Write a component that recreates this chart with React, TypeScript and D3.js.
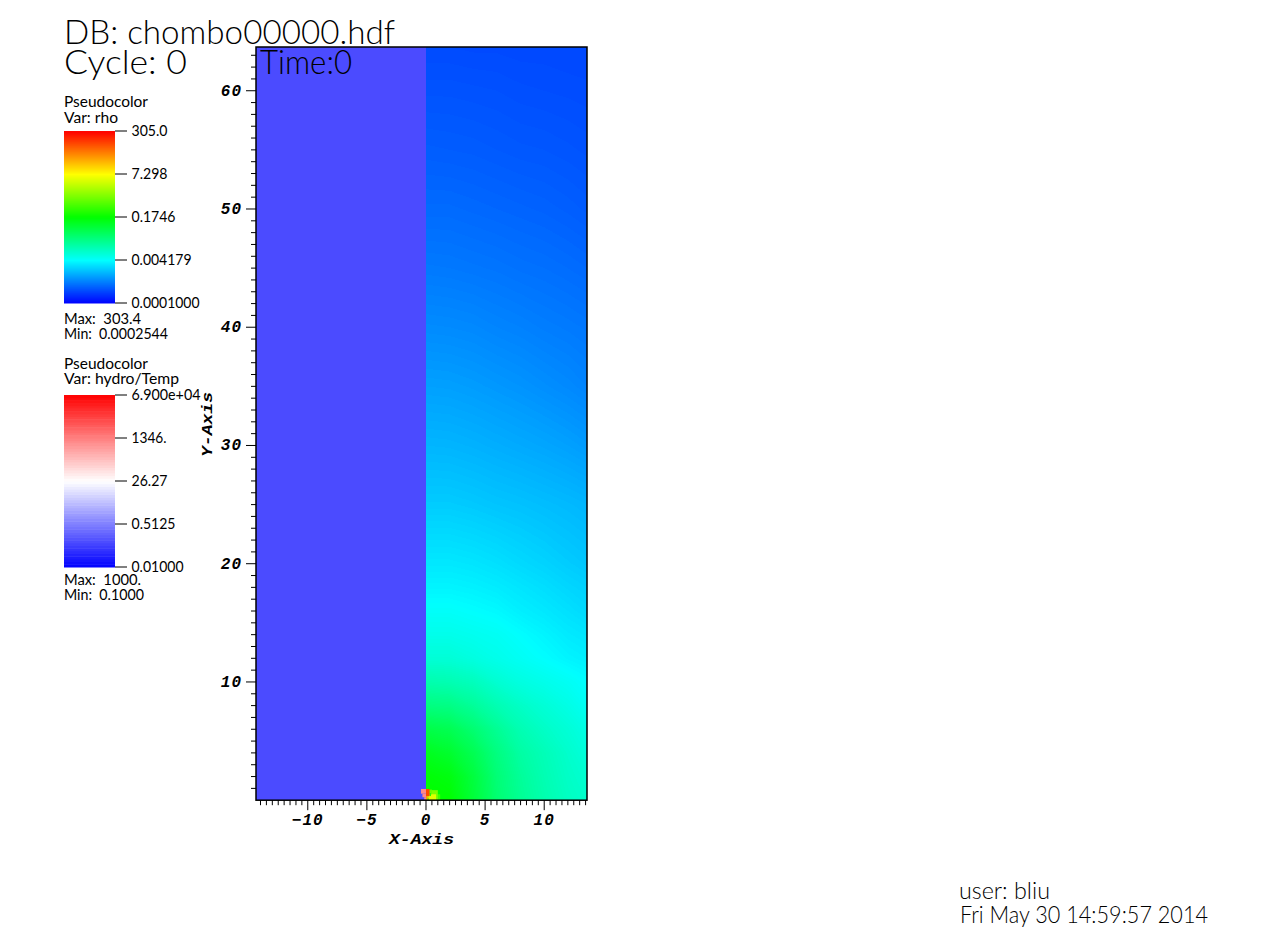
import React, { useMemo } from 'react';
import * as d3 from 'd3';

// Grid of the rho field on the x > 0 side. Values are read as positions along
// the rho colour bar (0 = 0.0001, 1 = 305), one row per y in fieldY.
const fieldX = [0, 2, 4, 6, 8, 10, 12, 13.62];
const fieldY = [0, 2, 4, 6, 8, 10, 12, 14, 16, 18, 20, 25, 30, 35, 40, 45, 50, 55, 60, 63.7];
const fieldRows = [
  [0.5, 0.5, 0.445, 0.39, 0.355, 0.33, 0.31, 0.3],
  [0.495, 0.485, 0.44, 0.385, 0.35, 0.325, 0.305, 0.295],
  [0.47, 0.455, 0.42, 0.375, 0.34, 0.32, 0.3, 0.285],
  [0.43, 0.42, 0.39, 0.355, 0.325, 0.305, 0.29, 0.275],
  [0.375, 0.37, 0.35, 0.325, 0.305, 0.29, 0.275, 0.26],
  [0.33, 0.325, 0.315, 0.295, 0.28, 0.27, 0.26, 0.25],
  [0.29, 0.29, 0.28, 0.27, 0.26, 0.25, 0.24, 0.235],
  [0.27, 0.27, 0.265, 0.26, 0.25, 0.24, 0.23, 0.225],
  [0.255, 0.255, 0.25, 0.245, 0.235, 0.228, 0.22, 0.213],
  [0.24, 0.24, 0.237, 0.232, 0.225, 0.218, 0.21, 0.205],
  [0.228, 0.228, 0.225, 0.22, 0.213, 0.207, 0.2, 0.195],
  [0.2, 0.2, 0.197, 0.193, 0.19, 0.186, 0.182, 0.178],
  [0.178, 0.177, 0.174, 0.17, 0.166, 0.162, 0.157, 0.152],
  [0.157, 0.156, 0.153, 0.149, 0.145, 0.14, 0.135, 0.13],
  [0.137, 0.136, 0.134, 0.13, 0.127, 0.123, 0.12, 0.117],
  [0.119, 0.118, 0.116, 0.114, 0.111, 0.109, 0.106, 0.103],
  [0.104, 0.104, 0.102, 0.1, 0.098, 0.096, 0.093, 0.09],
  [0.092, 0.091, 0.09, 0.088, 0.086, 0.085, 0.083, 0.081],
  [0.081, 0.081, 0.08, 0.079, 0.077, 0.076, 0.075, 0.074],
  [0.073, 0.073, 0.072, 0.072, 0.071, 0.071, 0.07, 0.07],
];

// Small patches at the origin: [x0, x1, y0, y1, value]
const hotRho = [
  [0, 1.2, 0, 0.5, 0.56],
  [0.25, 1, 0, 0.85, 0.62],
  [0.25, 0.85, 0, 0.5, 0.72],
  [0.25, 0.5, 0.5, 0.9, 0.6],
  [0.3, 0.42, 0.35, 0.6, 0.52],
  [0, 0.12, 0, 0.35, 0.85],
  [0.12, 0.25, 0.15, 0.35, 0.8],
  [0, 0.3, 0.35, 0.95, 0.93],
];
const hotTemp = [
  [-0.42, 0, 0.55, 0.95, 1000],
  [-0.3, 0, 0.25, 0.55, 1000],
  [-0.15, 0, 0.05, 0.25, 1000],
];
const coldTemp = 0.1;

const rhoTicks = ['305.0', '7.298', '0.1746', '0.004179', '0.0001000'];
const tempTicks = ['6.900e+04', '1346.', '26.27', '0.5125', '0.01000'];
const xTicks = [-10, -5, 0, 5, 10];
const yTicks = [10, 20, 30, 40, 50, 60];

const SANS = 'Lato, "Noto Sans", sans-serif';
const MONO = '"Liberation Mono", "DejaVu Sans Mono", monospace';

const x = d3.scaleLinear().domain([-14.38, 13.62]).range([256, 587]);
const y = d3.scaleLinear().domain([0, 63.7]).range([800.2, 47]);

const rhoColor = d3.scaleLinear<string>()
  .domain([0, 0.25, 0.5, 0.75, 1])
  .range(['#0000ff', '#00ffff', '#00ff00', '#ffff00', '#ff0000']);
const tempPos = d3.scaleLog().domain([0.01, 69000]).range([0, 1]);
const tempRamp = d3.scaleLinear<string>()
  .domain([0, 0.5, 1])
  .range(['#0000ff', '#ffffff', '#ff0000']);
const tempColor = (v: number) => tempRamp(tempPos(v));

// Label placed by its left edge and width, since the original font is not installed
const Label = ({ x: lx, y: ly, w, size, children }: any) => (
  <text
    x={lx}
    y={ly}
    fontSize={size}
    fontWeight={size > 20 ? 300 : 400}
    textLength={w}
    lengthAdjust="spacingAndGlyphs"
    fontFamily={SANS}
    fill="#000"
    style={{ whiteSpace: 'pre' }}
  >
    {children}
  </text>
);

const ColorBar = ({ top, bottom, steps, ramp, ticks, widths }: any) => {
  const bar = d3.scaleLinear().domain([0, 1]).range([bottom, top]);
  const strips = d3.range(steps);
  return (
    <g>
      {strips.map((i) => (
        <rect
          key={i}
          x={64}
          width={51}
          y={bar((i + 1) / steps)}
          height={bar(i / steps) - bar((i + 1) / steps) + 0.5}
          fill={ramp((i + 0.5) / steps)}
        />
      ))}
      {ticks.map((t: string, i: number) => {
        const ty = bar(1 - i / (ticks.length - 1));
        return (
          <g key={t}>
            <line x1={115} x2={127} y1={ty} y2={ty} stroke="#000" strokeWidth={1} />
            <Label x={131.5} y={ty + 5} w={widths[i]} size={15}>{t}</Label>
          </g>
        );
      })}
    </g>
  );
};

export default function App() {
  const contours = useMemo(() => {
    const nx = fieldX.length;
    const ny = fieldY.length;
    const levels = d3.range(0.064, 0.52, 0.003);
    const gen = d3.contours().size([nx, ny]).thresholds(levels);
    const polys = gen(fieldRows.flat());
    // contour coordinates are grid indices, cell centres at i + 0.5
    const ix = d3.scaleLinear().domain(fieldX.map((_, i) => i + 0.5)).range(fieldX).clamp(true);
    const iy = d3.scaleLinear().domain(fieldY.map((_, i) => i + 0.5)).range(fieldY).clamp(true);
    const path = d3.geoPath(d3.geoTransform({
      point(px: number, py: number) {
        (this as any).stream.point(x(ix(px)), y(iy(py)));
      },
    }));
    return polys.map((c) => ({ d: path(c as any) || '', fill: rhoColor(c.value + 0.0015) }));
  }, []);

  const xMinor = d3.range(-14, 13.6, 0.5);
  const yMinor = d3.range(1, 64, 1);

  return (
    <svg width={1280} height={942} style={{ position: 'absolute', left: 0, top: 0, display: 'block', background: '#fff' }}>
      <Label x={64} y={44} w={331} size={33}>DB: chombo00000.hdf</Label>
      <Label x={64} y={74} w={123} size={33}>Cycle: 0</Label>

      {/* rho legend */}
      <Label x={64} y={107} w={84} size={15}>Pseudocolor</Label>
      <Label x={64} y={122.5} w={54} size={15}>Var: rho</Label>
      <ColorBar top={131} bottom={303} steps={86} ramp={rhoColor} ticks={rhoTicks} widths={[36, 36, 44, 60, 68]} />
      <Label x={64} y={324} w={77} size={15}>Max:  303.4</Label>
      <Label x={64} y={338.5} w={104} size={15}>Min:  0.0002544</Label>

      {/* temperature legend */}
      <Label x={64} y={369} w={84} size={15}>Pseudocolor</Label>
      <Label x={64} y={384} w={115} size={15}>Var: hydro/Temp</Label>
      <ColorBar top={395} bottom={567} steps={64} ramp={tempRamp} ticks={tempTicks} widths={[69, 35, 36, 44, 52]} />
      <Label x={64} y={585} w={77} size={15}>Max:  1000.</Label>
      <Label x={64} y={600} w={80} size={15}>Min:  0.1000</Label>

      {/* plot */}
      <rect x={x(-14.38)} y={y(63.7)} width={x(0) - x(-14.38)} height={y(0) - y(63.7)} fill={tempColor(coldTemp)} />
      <rect x={x(0)} y={y(63.7)} width={x(13.62) - x(0)} height={y(0) - y(63.7)} fill={rhoColor(0.064)} shapeRendering="crispEdges" />
      {contours.map((c, i) => <path key={i} d={c.d} fill={c.fill} shapeRendering="crispEdges" />)}
      {hotRho.map((c, i) => (
        <rect key={i} x={x(c[0])} width={x(c[1]) - x(c[0])} y={y(c[3])} height={y(c[2]) - y(c[3])} fill={rhoColor(c[4])} />
      ))}
      {hotTemp.map((c, i) => (
        <rect key={i} x={x(c[0])} width={x(c[1]) - x(c[0])} y={y(c[3])} height={y(c[2]) - y(c[3])} fill={tempColor(c[4])} />
      ))}
      <rect x={x(-14.38)} y={y(63.7)} width={x(13.62) - x(-14.38)} height={y(0) - y(63.7)} fill="none" stroke="#000" strokeWidth={1.5} />
      <Label x={260} y={74} w={92} size={33}>Time:0</Label>

      {/* axes */}
      {xMinor.map((v) => (
        <line key={v} x1={x(v)} x2={x(v)} y1={y(0)} y2={y(0) + (v % 5 === 0 ? 10 : 5)} stroke="#000" strokeWidth={1} />
      ))}
      {yMinor.map((v) => (
        <line key={v} y1={y(v)} y2={y(v)} x1={256} x2={256 - (v % 10 === 0 ? 10 : 5)} stroke="#000" strokeWidth={1} />
      ))}
      {xTicks.map((v) => (
        <text key={v} x={x(v)} y={825} textAnchor="middle" fontFamily={MONO} fontWeight="bold" fontStyle="italic" fontSize={16} letterSpacing={1}>
          {v < 0 ? `\u2212${-v}` : v}
        </text>
      ))}
      {yTicks.map((v) => (
        <text key={v} x={242} y={y(v) + 5} textAnchor="end" fontFamily={MONO} fontWeight="bold" fontStyle="italic" fontSize={16} letterSpacing={1}>
          {v}
        </text>
      ))}
      <text x={389} y={844} textLength={65} lengthAdjust="spacingAndGlyphs" fontFamily={MONO} fontWeight="bold" fontStyle="italic" fontSize={15}>X-Axis</text>
      <text transform="translate(212,457) rotate(-90)" textLength={65} lengthAdjust="spacingAndGlyphs" fontFamily={MONO} fontWeight="bold" fontStyle="italic" fontSize={15}>Y-Axis</text>

      <Label x={959} y={899} w={91} size={23}>user: bliu</Label>
      <Label x={960} y={923} w={248} size={23}>Fri May 30 14:59:57 2014</Label>
    </svg>
  );
}
